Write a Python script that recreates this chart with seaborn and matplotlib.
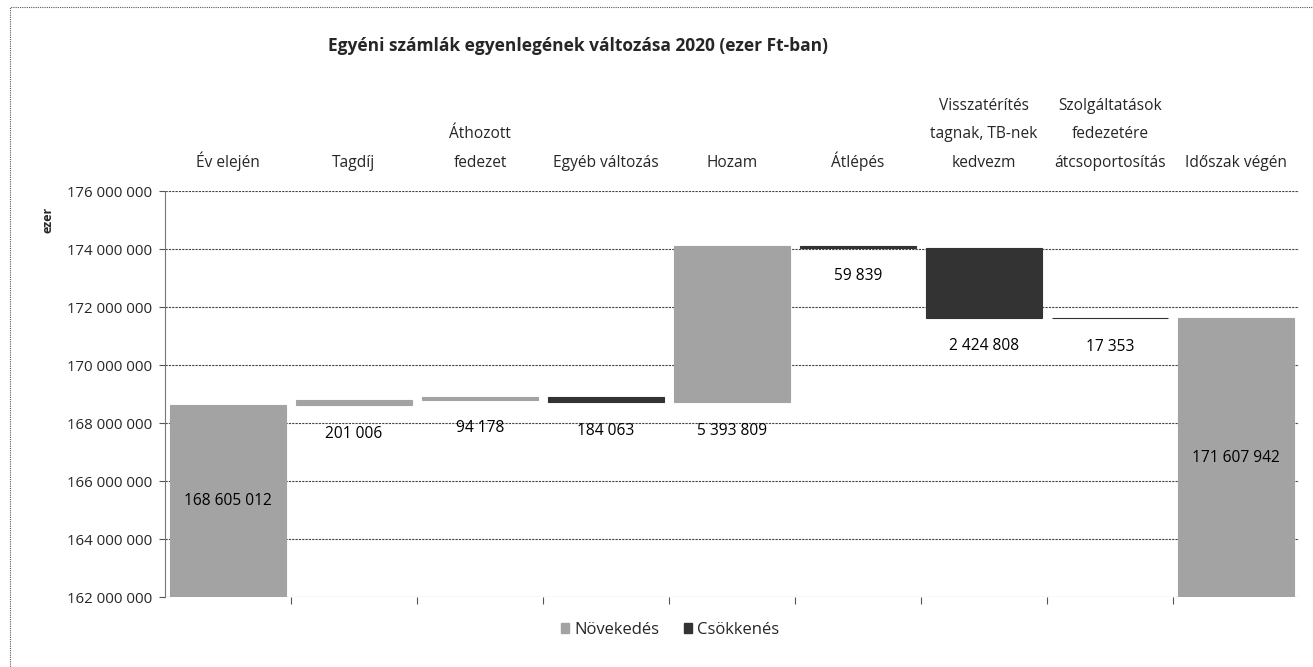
import matplotlib
matplotlib.use("Agg")
import matplotlib.pyplot as plt
from matplotlib.patches import Patch, Rectangle
from matplotlib.ticker import FixedLocator, FuncFormatter
import numpy as np
import pandas as pd
import seaborn as sns

# chart values (ezer Ft)
categories = [
    "Év elején",
    "Tagdíj",
    "Áthozott\nfedezet",
    "Egyéb változás",
    "Hozam",
    "Átlépés",
    "Visszatérítés\ntagnak, TB-nek\nkedvezm",
    "Szolgáltatások\nfedezetére\nátcsoportosítás",
    "Időszak végén",
]
changes = [168605012, 201006, 94178, -184063, 5393809, -59839, -2424808, -17353, 171607942]
is_total = [True, False, False, False, False, False, False, False, True]
y_ticks = [162000000, 164000000, 166000000, 168000000, 170000000, 172000000, 174000000, 176000000]
legend_labels = ["Növekedés", "Csökkenés"]

colors = {"Növekedés": "#a3a3a3", "Csökkenés": "#333333"}
W, H = 1313, 667


def fmt(v):
    return f"{int(round(v)):,}".replace(",", " ")


# waterfall spans
rows = []
running = 0
for cat, v, tot in zip(categories, changes, is_total):
    if tot:
        rows.append((cat, 0, v, "Növekedés", v))
        running = v
    else:
        lo = running if v >= 0 else running + v
        rows.append((cat, lo, abs(v), "Növekedés" if v >= 0 else "Csökkenés", abs(v)))
        running += v
df = pd.DataFrame(rows, columns=["category", "bottom", "height", "direction", "label"])

sns.set_theme(style="white")
plt.rcParams["font.family"] = ["Open Sans", "DejaVu Sans"]

fig = plt.figure(figsize=(W / 100, H / 100), dpi=100)
ax = fig.add_axes([165 / W, 1 - 597 / H, (1299 - 165) / W, (597 - 191) / H])

for direction in legend_labels:
    sub = df[df["direction"] == direction]
    sns.barplot(
        data=sub,
        x="category",
        y="height",
        order=categories,
        bottom=sub["bottom"].values,
        color=colors[direction],
        saturation=1,
        width=0.92,
        errorbar=None,
        linewidth=0.8,
        edgecolor=colors[direction],
        ax=ax,
        zorder=3,
    )

ax.set_ylim(y_ticks[0], y_ticks[-1])
ax.set_xlim(-0.5, len(categories) - 0.5)
ax.yaxis.set_major_locator(FixedLocator(y_ticks))
ax.yaxis.set_major_formatter(FuncFormatter(lambda v, p: fmt(v)))
ax.grid(axis="y", color="#444444", linewidth=0.8, linestyle=(0, (2, 1)), zorder=0)
ax.set_axisbelow(True)
ax.set_xlabel("")
ax.set_ylabel("")

for s in ["top", "right", "bottom"]:
    ax.spines[s].set_visible(False)
ax.spines["left"].set_color("#777777")
ax.spines["left"].set_linestyle((0, (1, 1)))
ax.spines["left"].set_linewidth(0.8)

ax.xaxis.set_minor_locator(FixedLocator(np.arange(0.5, len(categories) - 0.5, 1)))
ax.tick_params(axis="x", which="major", bottom=False, top=False,
               labelbottom=False, labeltop=True, labelsize=11.2, pad=8.5)
ax.tick_params(axis="x", which="minor", bottom=True, top=False, length=5,
               width=0.8, color="#555555", direction="out")
ax.tick_params(axis="y", left=True, length=4, width=0.8, color="#555555",
               labelsize=10.8, pad=5)
for lbl in ax.get_xticklabels():
    lbl.set_linespacing(2.05)

# value labels
ymin = y_ticks[0]
for i, r in df.iterrows():
    if is_total[i]:
        ax.text(i, (ymin + r["bottom"] + r["height"]) / 2, fmt(r["label"]),
                ha="center", va="center", fontsize=11.2, color="black", zorder=4)
    else:
        ax.annotate(fmt(r["label"]), xy=(i, r["bottom"]), xytext=(0, -20.5),
                    textcoords="offset points", ha="center", va="center",
                    fontsize=11.2, color="black", zorder=4)

fig.text(578 / W, 1 - 46 / H,
         "Egyéni számlák egyenlegének változása 2020 (ezer Ft-ban)",
         ha="center", va="center", fontsize=12.5, fontweight="bold")
fig.text(48 / W, 1 - 220 / H, "ezer", rotation=90, ha="center", va="center",
         fontsize=9, fontweight="bold")

handles = [Patch(facecolor=colors[d], edgecolor=colors[d], label=d) for d in legend_labels]
fig.legend(handles=handles, loc="center", bbox_to_anchor=(670 / W, 1 - 630 / H),
           ncol=2, frameon=False, fontsize=12, handlelength=0.5, handleheight=0.5,
           handletextpad=0.3, columnspacing=1.5)

fig.patches.append(Rectangle((10 / W, -0.1), 1.2, 1.1 - 7 / H,
                             transform=fig.transFigure, fill=False,
                             edgecolor="#555555", linewidth=0.8,
                             linestyle=(0, (1, 1))))

fig.savefig("out.png", dpi=100)
